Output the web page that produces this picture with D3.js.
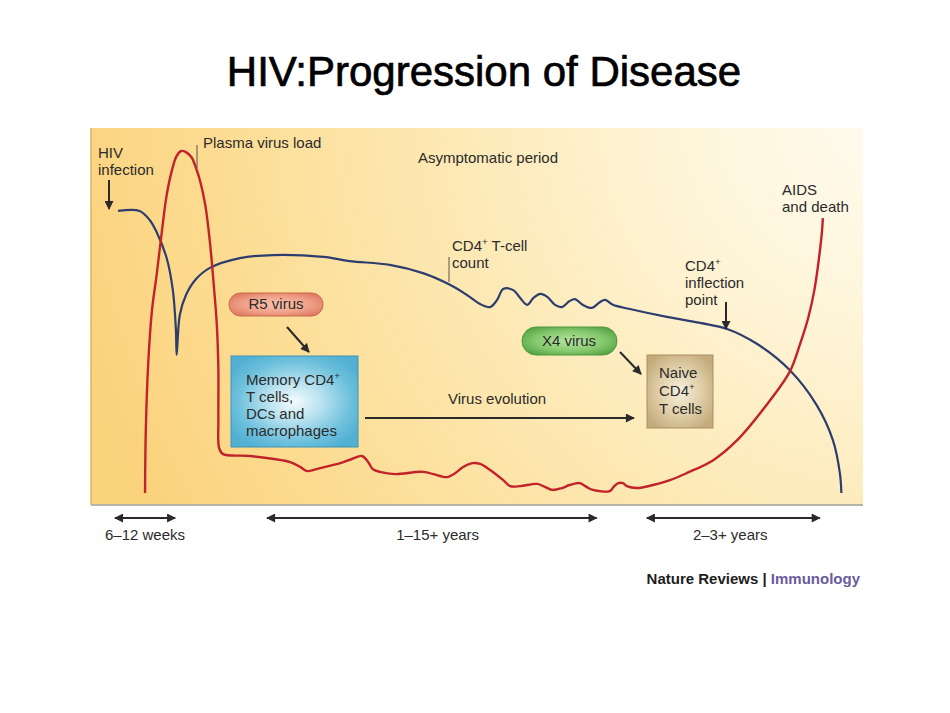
<!DOCTYPE html>
<html><head><meta charset="utf-8">
<script src="https://cdn.jsdelivr.net/npm/d3@7"></script>
<style>body{margin:0;background:#fff;} svg{display:block;font-family:"Liberation Sans",Arial,Helvetica,sans-serif;}</style>
</head><body><svg id="chart" width="950" height="713"></svg>
<script>
// ---- Data (relative time 0-100, relative level 0-100) ----
const cd4Time  = [3.5,6.3,7.6,8.5,9.8,10.6,11.0,11.1,11.5,12.3,13.5,15.4,19.3,23.6,30.1,33.5,38.7,43.0,46.5,48.7,50.4,51.7,52.6,53.4,54.7,55.6,56.5,57.3,58.2,59.1,60.1,61.0,62.0,62.7,63.7,64.9,65.9,66.6,67.6,69.8,74.6,78.9,82.4,86.3,90.5,94.0,96.1,97.0,97.2];
const cd4Level = [78.0,78.0,75.6,72.4,65.5,57.0,46.4,39.8,50.4,55.7,59.7,62.9,65.5,66.3,65.8,64.7,63.7,61.5,58.4,55.7,53.3,52.5,54.4,57.3,57.0,54.9,53.1,54.9,56.0,55.2,53.1,52.5,54.1,54.6,53.1,52.3,53.8,54.4,53.1,52.0,49.9,48.3,46.7,42.7,35.8,26.5,17.2,8.5,3.2];
const viralTime  = [7.0,7.1,7.4,7.9,8.5,9.2,9.8,10.5,11.1,11.7,12.3,13.0,13.6,14.1,14.8,15.4,15.9,16.3,16.5,16.5,16.6,17.1,20.6,25.8,27.1,28.0,29.7,32.3,33.8,35.1,35.9,36.5,37.4,39.4,43.0,45.2,46.1,47.2,48.2,49.4,50.4,51.7,53.4,54.3,55.6,57.8,58.8,59.8,61.0,62.0,63.3,64.2,65.0,67.2,67.7,68.3,68.9,69.4,70.7,72.8,75.0,77.2,80.6,83.7,87.3,90.5,91.8,92.9,93.7,94.3,94.7,94.8];
const viralLevel = [3.2,19.9,37.1,51.7,61.0,72.9,82.2,88.9,92.6,93.9,93.6,92.3,89.4,86.2,79.6,69.8,58.4,47.7,35.8,22.5,15.1,13.5,13.0,11.4,10.1,9.0,9.8,11.1,12.2,13.0,11.4,9.5,8.8,8.2,8.8,7.7,7.4,8.5,10.1,11.1,10.9,9.3,6.6,5.0,5.0,5.6,4.8,4.0,4.5,5.3,5.8,4.8,4.0,3.7,4.8,5.8,5.8,5.0,4.5,5.3,6.6,8.5,11.9,17.2,26.0,35.3,42.4,49.6,57.0,65.5,72.9,76.1];
const periodLabels = ["6–12 weeks","1–15+ years","2–3+ years"];
const periodStart  = [3.1, 22.8, 72.0];
const periodEnd    = [10.9, 65.5, 94.4];
const periodLabelAt = [7.0, 44.9, 82.8];

const svg = d3.select("#chart");
const P = {left:91, right:863, top:128, bottom:505};
const x = d3.scaleLinear().domain([0,100]).range([P.left, P.right]);
const y = d3.scaleLinear().domain([0,100]).range([P.bottom, P.top]);

const defs = svg.append("defs");
const bg = defs.append("radialGradient").attr("id","bg").attr("gradientUnits","userSpaceOnUse")
  .attr("cx",900).attr("cy",100).attr("r",860);
[[0,"#fffcf2"],[0.25,"#fef5da"],[0.55,"#fde8b2"],[0.8,"#fcdc92"],[1,"#fbd27c"]]
  .forEach(([o,c])=>bg.append("stop").attr("offset",o).attr("stop-color",c));
function radial(id, stops){
  const g = defs.append("radialGradient").attr("id",id).attr("cx","50%").attr("cy","50%").attr("r","60%");
  stops.forEach(([o,c])=>g.append("stop").attr("offset",o).attr("stop-color",c));
}
radial("r5",[[0,"#f9c2ad"],[0.6,"#f0a088"],[1,"#e07a62"]]);
radial("x4",[[0,"#b6e4a0"],[0.6,"#86c96e"],[1,"#55a444"]]);
radial("mem",[[0,"#f4fbfd"],[0.35,"#b9e2ef"],[0.75,"#6cc0dc"],[1,"#52b0d2"]]);
radial("naive",[[0,"#f6efdc"],[0.5,"#e2d2ac"],[1,"#c4ab7c"]]);

defs.append("marker").attr("id","ah").attr("viewBox","0 0 10 10").attr("refX",9).attr("refY",5)
  .attr("markerWidth",10).attr("markerHeight",9).attr("markerUnits","userSpaceOnUse")
  .attr("orient","auto-start-reverse")
  .append("path").attr("d","M0,0 L10,5 L0,10 z").attr("fill","#2a2a2a");

// Title
svg.append("text").attr("x",484).attr("y",86).attr("text-anchor","middle")
  .attr("font-size",42).attr("fill","#000").attr("stroke","#000").attr("stroke-width",0.7)
  .text("HIV:Progression of Disease");

// panel
svg.append("rect").attr("x",P.left).attr("y",P.top).attr("width",P.right-P.left).attr("height",P.bottom-P.top)
  .attr("fill","url(#bg)");
svg.append("line").attr("x1",P.left).attr("x2",P.left).attr("y1",P.top).attr("y2",P.bottom)
  .attr("stroke","#d9b56a").attr("stroke-width",1.5);
svg.append("line").attr("x1",P.left).attr("x2",P.right).attr("y1",P.bottom).attr("y2",P.bottom)
  .attr("stroke","#b8b3a8").attr("stroke-width",2);

const txtCol = "#2b2b2b";
function label(lines, x0, y0, opts={}){
  const t = svg.append("text").attr("x",x0).attr("y",y0).attr("font-size",opts.size||15)
    .attr("fill",opts.fill||txtCol).attr("text-anchor",opts.anchor||"start");
  lines.forEach((ln,i)=>{
    const ts = t.append("tspan").attr("x",x0).attr("dy", i===0?0:(opts.lh||17));
    const m = ln.split("^");
    ts.text(m[0]);
    if(m.length>1){
      t.append("tspan").attr("font-size",(opts.size||15)*0.65).attr("dy",-6).text("+");
      t.append("tspan").attr("dy",6).text(m[1]||"");
    }
  });
  return t;
}
function arrow(x1,y1,x2,y2,both){
  const l = svg.append("line").attr("x1",x1).attr("y1",y1).attr("x2",x2).attr("y2",y2)
    .attr("stroke","#2a2a2a").attr("stroke-width",2).attr("marker-end","url(#ah)");
  if(both) l.attr("marker-start","url(#ah)");
}

// Boxes and pills
svg.append("rect").attr("x",231).attr("y",356).attr("width",127).attr("height",91)
  .attr("fill","url(#mem)").attr("stroke","#3f93b5").attr("stroke-width",1);
svg.append("rect").attr("x",647).attr("y",355).attr("width",66).attr("height",73)
  .attr("fill","url(#naive)").attr("stroke","#a88f62").attr("stroke-width",1);
svg.append("rect").attr("x",229).attr("y",293).attr("width",94).attr("height",23).attr("rx",11.5)
  .attr("fill","url(#r5)").attr("stroke","#c9694f").attr("stroke-width",1);
svg.append("rect").attr("x",522).attr("y",327).attr("width",95).attr("height",28).attr("rx",14)
  .attr("fill","url(#x4)").attr("stroke","#4f9a40").attr("stroke-width",1);

// Curves
const line = d3.line().x(d=>x(d[0])).y(d=>y(d[1])).curve(d3.curveCatmullRom.alpha(0.5));
svg.append("path").datum(cd4Time.map((t,i)=>[t,cd4Level[i]])).attr("d",line)
  .attr("fill","none").attr("stroke","#2c3d6e").attr("stroke-width",2.2);
svg.append("path").datum(viralTime.map((t,i)=>[t,viralLevel[i]])).attr("d",line)
  .attr("fill","none").attr("stroke","#c2232a").attr("stroke-width",2.4).attr("stroke-linejoin","round");

// annotations
label(["HIV","infection"],98,158);
arrow(109,180,109,209);
svg.append("line").attr("x1",197).attr("x2",197).attr("y1",145).attr("y2",168).attr("stroke","#555").attr("stroke-width",1);
label(["Plasma virus load"],203,148);
label(["Asymptomatic period"],418,163);
svg.append("line").attr("x1",449).attr("x2",449).attr("y1",257).attr("y2",282).attr("stroke","#555").attr("stroke-width",1);
label(["CD4^ T-cell"],452,251);
label(["count"],452,268);
label(["CD4^"],685,271);
label(["inflection","point"],685,288);
arrow(726,302,726,329);
label(["AIDS","and death"],782,195);

label(["R5 virus"],276,309,{anchor:"middle"});
arrow(287,327,309,352);
label(["Memory CD4^"],246,385);
label(["T cells,","DCs and","macrophages"],246,402);
arrow(365,418,634,418);
label(["Virus evolution"],448,404);
label(["X4 virus"],569,346,{anchor:"middle"});
arrow(620,352,641,374);
label(["Naive"],659,378);
label(["CD4^"],659,396);
label(["T cells"],659,414);

// period arrows
periodLabels.forEach((lab,i)=>{
  arrow(x(periodStart[i]),518,x(periodEnd[i]),518,true);
  label([lab], x(periodLabelAt[i]), 540, {anchor:"middle"});
});

// source
const src = svg.append("text").attr("x",860).attr("y",584).attr("text-anchor","end")
  .attr("font-size",15).attr("font-weight","bold");
src.append("tspan").attr("fill","#1e1e1e").text("Nature Reviews | ");
src.append("tspan").attr("fill","#6a5a9c").text("Immunology");
</script></body></html>
